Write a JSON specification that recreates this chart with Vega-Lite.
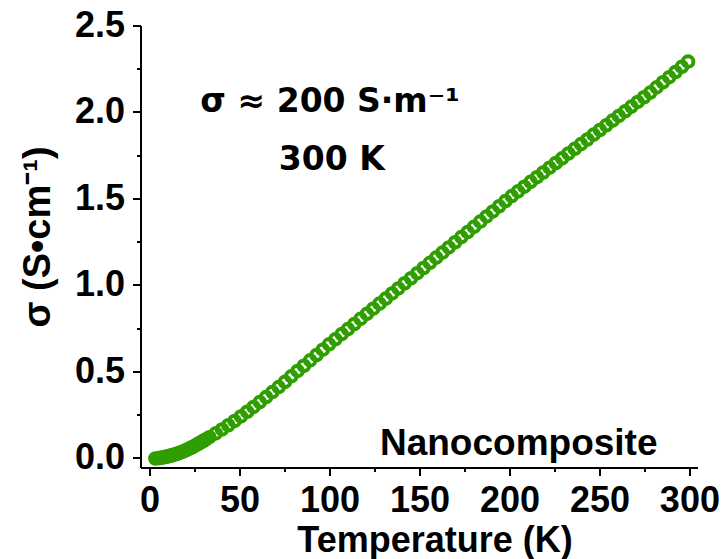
{
  "$schema": "https://vega.github.io/schema/vega-lite/v6.json",
  "width": 557,
  "height": 442,
  "autosize": {"type": "none"},
  "padding": {"left": 141, "top": 26, "right": 26, "bottom": 91},
  "background": "white",
  "config": {
    "view": {"stroke": null},
    "axis": {
      "grid": false,
      "translate": 0,
      "domainColor": "#000000",
      "domainWidth": 2,
      "domainOpacity": 1,
      "tickColor": "#000000",
      "tickWidth": 2,
      "tickOpacity": 1,
      "labelFont": "Liberation Sans",
      "labelFontSize": 36,
      "labelFontWeight": "bold",
      "labelColor": "black",
      "labelPadding": 8,
      "titleFont": "Liberation Sans",
      "titleFontWeight": "bold",
      "titleColor": "black"
    }
  },
  "data": {"values": [
    {"T": 299, "s": 2.294}, {"T": 295.5, "s": 2.264}, {"T": 292, "s": 2.234}, {"T": 288.5, "s": 2.204},
    {"T": 285, "s": 2.175}, {"T": 281.5, "s": 2.145}, {"T": 278, "s": 2.115}, {"T": 274.5, "s": 2.088},
    {"T": 271, "s": 2.061}, {"T": 267.5, "s": 2.034}, {"T": 264, "s": 2.007}, {"T": 260.5, "s": 1.980},
    {"T": 257, "s": 1.953}, {"T": 253.5, "s": 1.926}, {"T": 250, "s": 1.899}, {"T": 246.5, "s": 1.872},
    {"T": 243, "s": 1.844}, {"T": 239.5, "s": 1.817}, {"T": 236, "s": 1.790}, {"T": 232.5, "s": 1.763},
    {"T": 229, "s": 1.735}, {"T": 225.5, "s": 1.708}, {"T": 222, "s": 1.681}, {"T": 218.5, "s": 1.653},
    {"T": 215, "s": 1.626}, {"T": 211.5, "s": 1.599}, {"T": 208, "s": 1.571}, {"T": 204.5, "s": 1.544},
    {"T": 201, "s": 1.517}, {"T": 197.5, "s": 1.488}, {"T": 194, "s": 1.458}, {"T": 190.5, "s": 1.428},
    {"T": 187, "s": 1.399}, {"T": 183.5, "s": 1.369}, {"T": 180, "s": 1.339}, {"T": 176.5, "s": 1.309},
    {"T": 173, "s": 1.280}, {"T": 169.5, "s": 1.250}, {"T": 166, "s": 1.220}, {"T": 162.5, "s": 1.190},
    {"T": 159, "s": 1.161}, {"T": 155.5, "s": 1.131}, {"T": 152, "s": 1.101}, {"T": 148.5, "s": 1.071},
    {"T": 145, "s": 1.042}, {"T": 141.5, "s": 1.013}, {"T": 138, "s": 0.983}, {"T": 134.5, "s": 0.954},
    {"T": 131, "s": 0.924}, {"T": 127.5, "s": 0.895}, {"T": 124, "s": 0.866}, {"T": 120.5, "s": 0.836},
    {"T": 117, "s": 0.807}, {"T": 113.5, "s": 0.777}, {"T": 110, "s": 0.748}, {"T": 106.5, "s": 0.719},
    {"T": 103, "s": 0.689}, {"T": 99.5, "s": 0.660}, {"T": 96, "s": 0.629}, {"T": 92.5, "s": 0.598},
    {"T": 89, "s": 0.567}, {"T": 85.5, "s": 0.536}, {"T": 82, "s": 0.506}, {"T": 78.5, "s": 0.475},
    {"T": 75, "s": 0.443}, {"T": 71.5, "s": 0.413}, {"T": 68, "s": 0.384}, {"T": 64.5, "s": 0.355},
    {"T": 61, "s": 0.326}, {"T": 57.5, "s": 0.298}, {"T": 54, "s": 0.270}, {"T": 50.5, "s": 0.243},
    {"T": 47, "s": 0.217}, {"T": 43.5, "s": 0.192}, {"T": 40, "s": 0.168}, {"T": 36.5, "s": 0.145},
    {"T": 33, "s": 0.123}, {"T": 31, "s": 0.110}, {"T": 30, "s": 0.104}, {"T": 29, "s": 0.098},
    {"T": 28, "s": 0.092}, {"T": 27, "s": 0.086}, {"T": 26, "s": 0.080}, {"T": 25, "s": 0.074},
    {"T": 24, "s": 0.068}, {"T": 23, "s": 0.063}, {"T": 22, "s": 0.058}, {"T": 21, "s": 0.053},
    {"T": 20, "s": 0.048}, {"T": 19, "s": 0.043}, {"T": 18, "s": 0.039}, {"T": 17, "s": 0.035},
    {"T": 16, "s": 0.031}, {"T": 15, "s": 0.027}, {"T": 14, "s": 0.024}, {"T": 13, "s": 0.021},
    {"T": 12, "s": 0.018}, {"T": 11, "s": 0.015}, {"T": 10, "s": 0.012}, {"T": 9, "s": 0.010},
    {"T": 8, "s": 0.008}, {"T": 7, "s": 0.006}, {"T": 6, "s": 0.004}, {"T": 5, "s": 0.002},
    {"T": 3, "s": 0.0}
  ]},
  "layer": [
    {
      "mark": {"type": "point", "shape": "circle", "filled": false, "size": 112, "strokeWidth": 4, "color": "#2f9e00", "opacity": 1},
      "encoding": {
        "x": {"field": "T", "type": "quantitative",
              "scale": {"domain": [-5, 304.5], "nice": false, "zero": false},
              "axis": {"orient": "bottom",
                       "values": [0, 25, 50, 75, 100, 125, 150, 175, 200, 225, 250, 275, 300],
                       "labelExpr": "datum.value % 50 === 0 ? datum.label : ''",
                       "tickSize": {"condition": {"test": "datum.value % 50 === 0", "value": 8}, "value": 4},
                       "title": "Temperature (K)",
                       "titleFontSize": 36, "titleX": 294, "titleY": 84, "titleBaseline": "alphabetic", "titleAnchor": "middle"}},
        "y": {"field": "s", "type": "quantitative",
              "scale": {"domain": [-0.055, 2.5], "nice": false, "zero": false},
              "axis": {"orient": "left",
                       "values": [0, 0.25, 0.5, 0.75, 1, 1.25, 1.5, 1.75, 2, 2.25, 2.5],
                       "labelExpr": "abs(datum.value * 2 - round(datum.value * 2)) < 0.001 ? format(datum.value, '.1f') : ''",
                       "tickSize": {"condition": {"test": "abs(datum.value * 2 - round(datum.value * 2)) < 0.001", "value": 8}, "value": 4},
                       "title": "σ (S•cm⁻¹)",
                       "titleFontSize": 38, "titleX": -91, "titleY": 211, "titleBaseline": "alphabetic", "titleAngle": 270, "titleAnchor": "middle"}}
      }
    },
    {
      "data": {"values": [{}]},
      "mark": {"type": "text", "text": "σ ≈ 200 S·m⁻¹", "font": "DejaVu Sans", "fontWeight": "bold", "fontSize": 33, "align": "center", "baseline": "alphabetic", "color": "black"},
      "encoding": {"x": {"datum": 100, "type": "quantitative"}, "y": {"datum": 2.0, "type": "quantitative"}}
    },
    {
      "data": {"values": [{}]},
      "mark": {"type": "text", "text": "300 K", "font": "DejaVu Sans", "fontWeight": "bold", "fontSize": 33, "align": "center", "baseline": "alphabetic", "color": "black"},
      "encoding": {"x": {"datum": 101, "type": "quantitative"}, "y": {"datum": 1.666, "type": "quantitative"}}
    },
    {
      "data": {"values": [{}]},
      "mark": {"type": "text", "text": "Nanocomposite", "font": "Liberation Sans", "fontWeight": "bold", "fontSize": 37, "align": "right", "baseline": "alphabetic", "color": "black"},
      "encoding": {"x": {"datum": 282, "type": "quantitative"}, "y": {"datum": 0.02, "type": "quantitative"}}
    }
  ]
}
